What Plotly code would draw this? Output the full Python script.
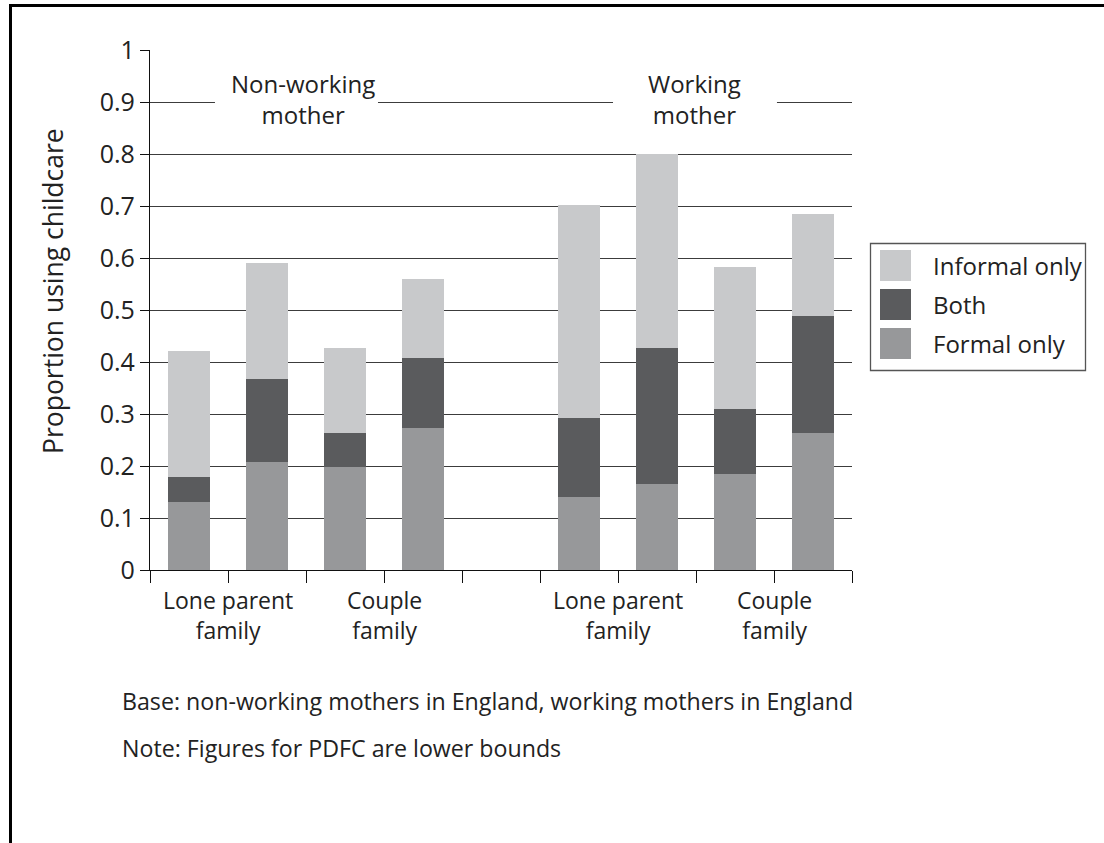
import plotly.graph_objects as go

# ---- data ----
positions = [1, 2, 3, 4, 6, 7, 8, 9]
formal_only = [0.131, 0.208, 0.198, 0.273, 0.140, 0.165, 0.184, 0.263]
both_top = [0.179, 0.367, 0.263, 0.408, 0.292, 0.427, 0.309, 0.488]
total = [0.421, 0.590, 0.427, 0.560, 0.701, 0.800, 0.582, 0.684]
both = [round(b - f, 3) for b, f in zip(both_top, formal_only)]
informal_only = [round(t - b, 3) for t, b in zip(total, both_top)]

group_centres = [1.5, 3.5, 6.5, 8.5]
group_labels = ["Lone parent<br>family", "Couple<br>family", "Lone parent<br>family", "Couple<br>family"]
panel_labels = ["Non-working<br>mother", "Working<br>mother"]
panel_x = [2.46, 7.48]
panel_gap = [(1.333, 3.423), (6.436, 8.538)]
series_names = ["Formal only", "Both", "Informal only"]
colors = ["#97989a", "#5a5b5d", "#c8c9cb"]
y_ticks = [0, 0.1, 0.2, 0.3, 0.4, 0.5, 0.6, 0.7, 0.8, 0.9, 1]
y_ticktext = ["0", "0.1", "0.2", "0.3", "0.4", "0.5", "0.6", "0.7", "0.8", "0.9", "1"]

FONT = "Open Sans"
W, H = 1104, 843
L, R, T, B = 150, 252, 50, 273
PW, PH = W - L - R, H - T - B


def px(x):
    return (x - L) / PW


def py(y):
    return (H - B - y) / PH


fig = go.Figure()
for name, vals, col in zip(series_names, [formal_only, both, informal_only], colors):
    fig.add_trace(go.Bar(x=positions, y=vals, name=name, marker_color=col,
                         marker_line_width=0, width=0.53, showlegend=False))

fig.update_layout(
    width=W, height=H, barmode="stack",
    margin=dict(l=L, r=R, t=T, b=B, pad=0),
    paper_bgcolor="white", plot_bgcolor="white",
    font=dict(family=FONT, size=22, color="#222"),
    xaxis=dict(range=[0.5, 9.5], tickvals=[i + 0.5 for i in range(0, 10)],
               showticklabels=False, ticks="outside", ticklen=12, tickcolor="#111",
               tickwidth=1.3, showline=True, linecolor="#111", linewidth=1.3,
               showgrid=False, zeroline=False),
    yaxis=dict(range=[0, 1], tickvals=y_ticks, ticktext=y_ticktext, ticks="outside",
               ticklen=9, tickcolor="#111", tickwidth=1.3, showline=True,
               linecolor="#111", linewidth=1.3, showgrid=True, gridcolor="#3c3c3c",
               gridwidth=1.2, zeroline=False, tickfont=dict(size=25, color="#222")),
)

ann = []
shapes = []
# panel labels on the 0.9 gridline (white gap in the gridline)
for lab, xv, (g0, g1) in zip(panel_labels, panel_x, panel_gap):
    shapes.append(dict(type="rect", xref="x", yref="y", x0=g0, x1=g1, y0=0.885, y1=0.915,
                       line=dict(width=0), fillcolor="white", layer="above"))
    ann.append(dict(x=xv, y=py(99), xref="x", yref="paper", text=lab, showarrow=False,
                    font=dict(size=24, color="#222"), xanchor="center", yanchor="middle",
                    align="center"))
# category labels
for xv, lab in zip(group_centres, group_labels):
    ann.append(dict(x=xv, y=py(582), xref="x", yref="paper", text=lab, showarrow=False,
                    font=dict(size=23, color="#222"), xanchor="center", yanchor="top",
                    align="center"))
# y title
ann.append(dict(x=px(53), y=py(291), xref="paper", yref="paper",
                text="Proportion using childcare", textangle=-90, showarrow=False,
                font=dict(size=26.5, color="#222"), xanchor="center", yanchor="middle"))
# notes
ann.append(dict(x=px(120), y=py(701), xref="paper", yref="paper",
                text="Base: non-working mothers in England, working mothers in England",
                showarrow=False, font=dict(size=23.2, color="#222"), xanchor="left",
                yanchor="middle"))
ann.append(dict(x=px(120), y=py(748), xref="paper", yref="paper",
                text="Note: Figures for PDFC are lower bounds",
                showarrow=False, font=dict(size=23.2, color="#222"), xanchor="left",
                yanchor="middle"))

# custom legend
shapes.append(dict(type="rect", xref="paper", yref="paper", x0=px(870.5), x1=px(1085.5),
                   y0=py(243.5), y1=py(370.5), line=dict(color="#555", width=1.3),
                   fillcolor="white"))
legend_rows = [("Informal only", colors[2], 250), ("Both", colors[1], 289),
               ("Formal only", colors[0], 328)]
for name, col, top in legend_rows:
    shapes.append(dict(type="rect", xref="paper", yref="paper", x0=px(880), x1=px(911),
                       y0=py(top), y1=py(top + 31), line=dict(width=0), fillcolor=col))
    ann.append(dict(x=px(931), y=py(top + 15.5), xref="paper", yref="paper", text=name,
                    showarrow=False, font=dict(size=24, color="#222"), xanchor="left",
                    yanchor="middle"))
# outer frame (top and left edges)
shapes.append(dict(type="line", xref="paper", yref="paper", x0=px(10.5), x1=px(1110),
                   y0=py(5.5), y1=py(5.5), line=dict(color="black", width=3)))
shapes.append(dict(type="line", xref="paper", yref="paper", x0=px(10.5), x1=px(10.5),
                   y0=py(4), y1=py(850), line=dict(color="black", width=3)))

fig.update_layout(annotations=ann, shapes=shapes)
fig.write_html("out.html", config={"displayModeBar": False},
               post_script="document.body.style.margin='0';document.body.style.overflow='hidden';")
